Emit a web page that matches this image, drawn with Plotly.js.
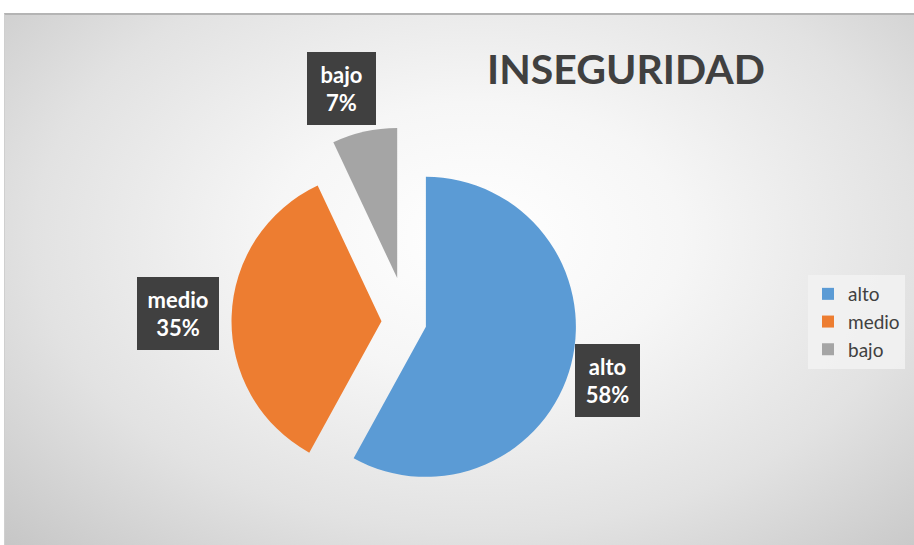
<!DOCTYPE html>
<html>
<head>
<meta charset="utf-8">
<script src="https://cdn.plot.ly/plotly-3.0.1.min.js"></script>
<style>
  html, body { margin:0; padding:0; background:#ffffff; }
  #wrap { position:relative; width:914px; height:545px; background:#ffffff; overflow:hidden; }
  #bg { position:absolute; left:4px; top:13px; width:910px; height:532px;
        border-top:2px solid #b4b4b4; border-left:1px solid #cfcfcf; box-sizing:border-box;
        background: radial-gradient(ellipse 75% 85% at 52% 42%, #ffffff 0%, #f6f6f6 30%, #e2e2e2 65%, #c4c4c4 100%); }
  #chart { position:absolute; left:0; top:0; width:914px; height:545px; }
</style>
</head>
<body>
<div id="wrap">
  <div id="bg"></div>
  <div id="chart"></div>
</div>
<script>
const categories = ["alto", "medio", "bajo"];
const values = [58, 35, 7];
const colors = ["#5B9BD5", "#ED7D31", "#A5A5A5"];
const pulls = [0.13, 0.17, 0.30];
const chartTitle = "INSEGURIDAD";

const total = values.reduce((a, b) => a + b, 0);
const pct = values.map(v => Math.round(v / total * 100) + "%");

// label box placement (paper coords) and sizes
const labelPos = [
  {x: 607/914, y: 1 - 380/545, w: 49, h: 57},
  {x: 178/914, y: 1 - 313/545, w: 66, h: 57},
  {x: 341/914, y: 1 - 88/545,  w: 53, h: 57}
];

const trace = {
  type: "pie",
  labels: categories,
  values: values,
  marker: { colors: colors, line: { width: 0 } },
  pull: pulls,
  sort: false,
  direction: "clockwise",
  rotation: 0,
  textinfo: "none",
  hoverinfo: "label+percent",
  domain: { x: [212/914, 602/914], y: [1 - 517/545, 1 - 127/545] }
};

const annotations = categories.map((c, i) => ({
  xref: "paper", yref: "paper",
  x: labelPos[i].x, y: labelPos[i].y,
  xanchor: "center", yanchor: "middle",
  text: "<b>" + c + "<br>" + pct[i] + "</b>",
  showarrow: false,
  bgcolor: "#404040",
  bordercolor: "#404040",
  borderwidth: 0,
  borderpad: 8,
  width: labelPos[i].w,
  height: labelPos[i].h,
  font: { family: "Lato, 'Open Sans', sans-serif", size: 22, color: "#ffffff" }
}));

const layout = {
  width: 914, height: 545,
  margin: { l: 0, r: 0, t: 0, b: 0 },
  paper_bgcolor: "rgba(0,0,0,0)",
  plot_bgcolor: "rgba(0,0,0,0)",
  title: {
    text: "<b>" + chartTitle + "</b>",
    x: 626/914, xanchor: "center",
    y: 1 - 70/545, yanchor: "middle",
    font: { family: "Lato, 'Open Sans', sans-serif", size: 41, color: "#404040" }
  },
  showlegend: true,
  legend: {
    x: 808/914, xanchor: "left",
    y: 1 - 322/545, yanchor: "middle",
    bgcolor: "rgba(242,242,242,0.85)",
    font: { family: "Lato, 'Open Sans', sans-serif", size: 19, color: "#404040" },
    traceorder: "normal"
  },
  annotations: annotations
};

Plotly.newPlot("chart", [trace], layout, { displayModeBar: false, staticPlot: true });
</script>
</body>
</html>
